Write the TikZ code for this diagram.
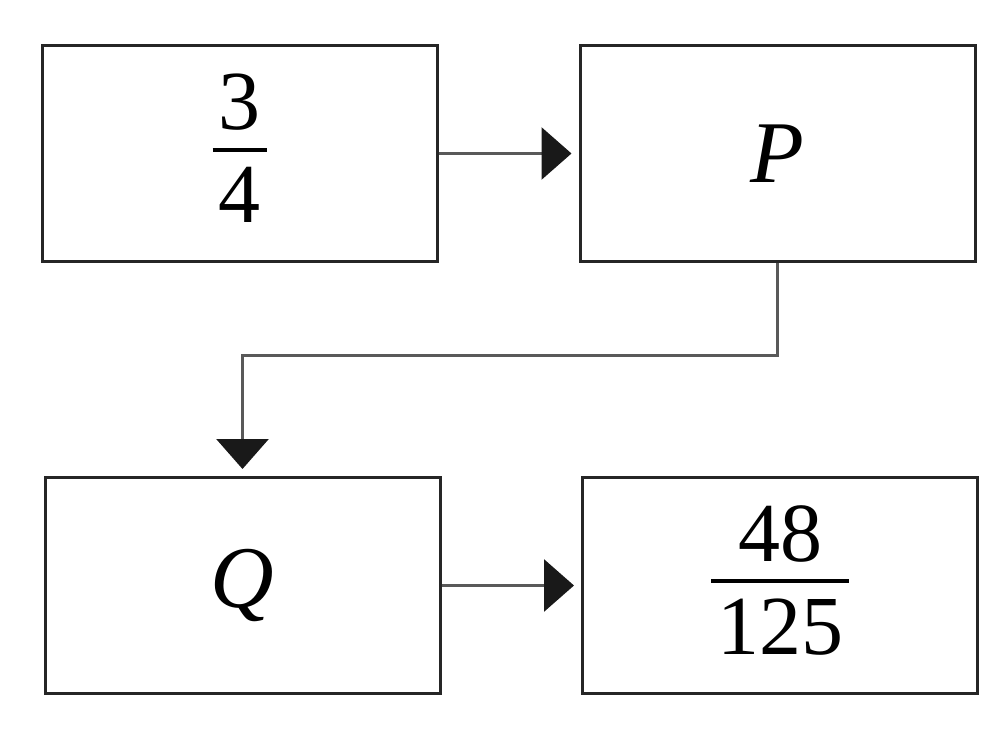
\documentclass[tikz,border=0pt]{standalone}
\usepackage{fontspec}
\setmainfont{Liberation Serif}
\usetikzlibrary{arrows.meta}

% stacked fraction in the text font
\newcommand\frc[2]{\vbox{\offinterlineskip\halign{\hfil##\hfil\cr
	\kern6pt#1\kern6pt\cr
	\noalign{\kern17pt\hrule height 4pt\kern16pt}
	\kern6pt#2\kern6pt\cr
	\noalign{\kern10pt}}}}

\begin{document}
\begin{tikzpicture}[x=1pt,y=-1pt,
	box/.style={draw=black!85,line width=3pt,minimum width=395pt,minimum height=216pt,inner sep=0pt,font=\fontsize{88}{100}\selectfont},
	frac/.style={box,font=\fontsize{84}{100}\selectfont},
	conn/.style={draw=black!65,line width=3pt,-{Triangle[length=30pt,width=52pt,color=black!90]},shorten >=7pt}]

	\useasboundingbox (0,0) rectangle (1004,730);

	\node[frac] (f) at (239.5,153.5) {\frc{3}{4}};
	\node[box] (p) at (777.5,153.5) {\textit{P}};
	\node[box] (q) at (242.5,585.5) {\textit{Q}};
	\node[frac] (r) at (780,585.5) {\frc{48}{125}};
	\coordinate (turn) at (778,355);

	\draw[conn] (f) -- (p);
	\draw[conn] (p.south) -- (p.south |- turn) -| (q.north);
	\draw[conn] (q) -- (r);

\end{tikzpicture}
\end{document}
